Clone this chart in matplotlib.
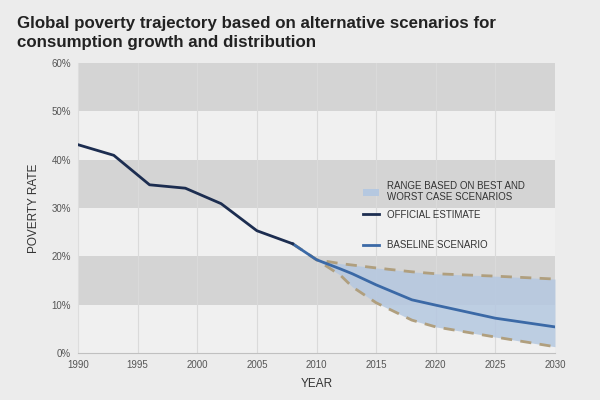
import matplotlib
matplotlib.use('Agg')

import matplotlib.pyplot as plt
from matplotlib.patches import Patch
from matplotlib.lines import Line2D

plt.rcParams['font.family'] = ['Liberation Sans', 'DejaVu Sans']

# official estimate
off_years = [1990, 1993, 1996, 1999, 2002, 2005, 2008]
off_rate = [43.1, 40.9, 34.8, 34.1, 30.9, 25.3, 22.6]

# scenarios (best / baseline / worst)
sc_years = [2008, 2010, 2012, 2013, 2015, 2018, 2020, 2025, 2030]
baseline = [22.6, 19.3, 17.4, 16.4, 14.1, 11.0, 9.9, 7.2, 5.4]
upper = [22.6, 19.3, 18.5, 18.2, 17.6, 16.8, 16.4, 15.9, 15.3]
lower = [22.6, 19.3, 16.1, 13.7, 10.4, 6.8, 5.4, 3.3, 1.3]

yticks = [0, 10, 20, 30, 40, 50, 60]
xticks = [1990, 1995, 2000, 2005, 2010, 2015, 2020, 2025, 2030]

navy = '#1c2d50'
blue = '#3b69a6'
tan = '#b09f7e'
fillc = '#b5c8e0'

fig = plt.figure(figsize=(6, 4), dpi=100, facecolor='#ececec')
ax = fig.add_axes([0.13, 0.1175, 0.795, 0.725])
ax.set_facecolor('#f0f0f0')

for lo in (10, 30, 50):
    ax.axhspan(lo, lo + 10, color='#d4d4d4', zorder=0, lw=0)
for x in xticks[1:-1]:
    ax.axvline(x, color='#dadada', lw=0.8, zorder=0.5)

ax.fill_between(sc_years, lower, upper, color=fillc, alpha=0.85, lw=0, zorder=1)
ax.plot(sc_years, upper, color=tan, lw=2, dashes=(4, 3), zorder=2)
ax.plot(sc_years, lower, color=tan, lw=2, dashes=(4, 3), zorder=2)
ax.plot(sc_years, baseline, color=blue, lw=2, zorder=3)
ax.plot(off_years, off_rate, color=navy, lw=2, zorder=3)

ax.set_xlim(1990, 2030)
ax.set_ylim(0, 60)
ax.set_xticks(xticks)
ax.set_yticks(yticks)
ax.set_yticklabels([f'{v}%' for v in yticks])
ax.tick_params(labelsize=7, colors='#555555', length=0, pad=5)
for s in ('top', 'right'):
    ax.spines[s].set_visible(False)
ax.spines['bottom'].set_color('#c0c0c0')
ax.spines['left'].set_color('#dddddd')

ax.set_xlabel('YEAR', fontsize=8.5, color='#333333', labelpad=6)
ax.set_ylabel('POVERTY RATE', fontsize=8.5, color='#333333', labelpad=8)

fig.text(0.028, 0.96, 'Global poverty trajectory based on alternative scenarios for\nconsumption growth and distribution',
         fontsize=12.2, fontweight='bold', color='#222222', va='top', linespacing=1.35)

# legend in two parts, the gap before the baseline entry is wider
h1 = [Patch(facecolor=fillc, edgecolor='none'), Line2D([], [], color=navy, lw=2)]
l1 = ['RANGE BASED ON BEST AND\nWORST CASE SCENARIOS', 'OFFICIAL ESTIMATE']
fig.legend(h1, l1, loc='upper left', bbox_to_anchor=(0.59, 0.57),
           frameon=False, fontsize=7, labelspacing=0.75, handlelength=1.7,
           handletextpad=0.8, labelcolor='#333333')
fig.legend([Line2D([], [], color=blue, lw=2)], ['BASELINE SCENARIO'], loc='center left',
           bbox_to_anchor=(0.59, 0.3875), frameon=False, fontsize=7, handlelength=1.7,
           handletextpad=0.8, labelcolor='#333333')

fig.savefig('out.png', dpi=100, facecolor=fig.get_facecolor())
